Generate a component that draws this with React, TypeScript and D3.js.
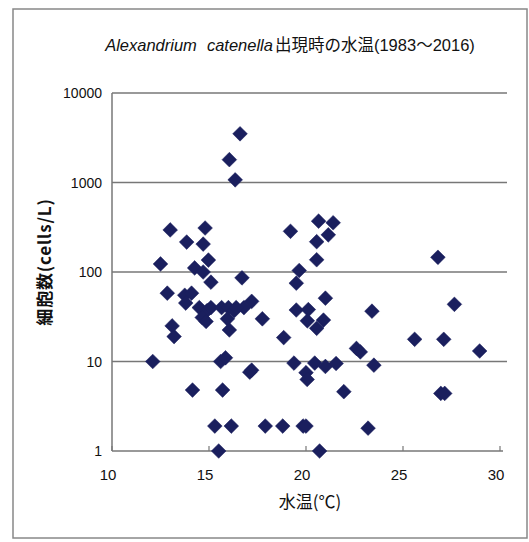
import React from "react";
import * as d3 from "d3";

const temps: number[] = [
  16.6, 16.05, 16.35, 13.0, 14.8, 13.85, 14.7, 14.97, 12.5, 14.26, 14.7, 15.1, 16.7,
  12.85, 13.75, 14.1, 13.8, 14.5, 14.9, 15.1, 14.65, 14.85, 15.65, 16.0, 16.3, 16.8,
  15.95, 16.05, 17.2, 13.1, 13.2, 12.1, 15.6, 15.85, 17.1, 17.2, 14.15, 15.7, 15.3,
  16.15, 15.5, 17.75, 18.85, 19.2, 20.65, 21.4, 21.15, 20.55, 20.55, 19.65, 19.5,
  21.0, 19.5, 20.12, 20.07, 20.9, 20.55, 23.4, 22.6, 22.8, 19.38, 20.45, 21.0, 21.55,
  23.5, 20.0, 20.06, 21.95, 17.9, 18.8, 19.85, 20.0, 23.2, 20.7, 26.8, 27.65, 25.6,
  27.1, 28.95, 26.95, 27.15, 16.4,
];
const cells: number[] = [
  3500, 1800, 1070, 295, 310, 216, 205, 136, 123, 111, 100, 77, 86,
  58, 55, 58, 45, 40, 37, 40, 31, 28, 40, 40, 37, 40,
  30, 22.5, 47, 25, 19, 10, 10, 11, 7.6, 8, 4.8, 4.8, 1.9,
  1.9, 1, 30, 18.5, 285, 370, 355, 260, 218, 137, 104, 75,
  51, 37.6, 38, 28.5, 29, 23.5, 36.5, 14, 12.8, 9.6, 9.6, 8.8, 9.5,
  9.1, 7.5, 6.3, 4.6, 1.9, 1.9, 1.9, 1.9, 1.8, 1, 146, 43.5, 17.7,
  17.7, 13.1, 4.4, 4.4, 40,
];
const xTicks: number[] = [10, 15, 20, 25, 30];
const yTicks: number[] = [1, 10, 100, 1000, 10000];

const W = 529;
const H = 542;
const FONT = "'Liberation Sans', Arial, 'Noto Sans CJK JP', sans-serif";
const JFONT = "'Noto Sans CJK JP', 'Liberation Sans', sans-serif";

export default function App() {
  const x = d3.scaleLinear().domain([10, 30]).range([112, 500]);
  const y = d3.scaleLog().domain([1, 10000]).range([451, 93]);
  const gridRight = 507;
  const diamond = d3.symbol().type(d3.symbolSquare).size(108)() as string;
  const points = temps.map((t, i) => ({ t, c: cells[i] }));

  return (
    <svg
      width={W}
      height={H}
      style={{ position: "absolute", left: 0, top: 0, background: "#fff" }}
    >
      <rect x={0} y={0} width={W} height={H} fill="#fff" />
      <rect x={13} y={9} width={514} height={529} fill="none" stroke="#888" strokeWidth={1.5} />

      <text x={290} y={51} textAnchor="middle" fontSize={16.5} fill="#111" fontFamily={FONT}>
        <tspan fontStyle="italic">Alexandrium</tspan>
        <tspan fontStyle="italic" dx={10}>catenella</tspan>
        <tspan fontFamily={JFONT} dx={2}>出現時の水温</tspan>
        <tspan>(1983</tspan>
        <tspan fontFamily={JFONT}>～</tspan>
        <tspan>2016)</tspan>
      </text>

      {yTicks.slice(1).map((v) => (
        <line key={"g" + v} x1={x(10)} x2={gridRight} y1={y(v)} y2={y(v)} stroke="#777" strokeWidth={1.5} />
      ))}
      <line x1={x(10)} x2={x(10)} y1={y(10000)} y2={y(1)} stroke="#777" strokeWidth={1.5} />
      <line x1={x(10)} x2={x(30) + 3} y1={y(1)} y2={y(1)} stroke="#777" strokeWidth={1.5} />
      {xTicks.map((v) => (
        <line key={"t" + v} x1={x(v)} x2={x(v)} y1={y(1)} y2={y(1) - 5} stroke="#777" strokeWidth={1.2} />
      ))}

      {yTicks.map((v) => (
        <text key={"yl" + v} x={102} y={y(v) + 5} textAnchor="end" fontSize={14} fill="#111" fontFamily={FONT}>
          {v}
        </text>
      ))}
      {xTicks.map((v) => (
        <text key={"xl" + v} x={x(v) - 4} y={480} textAnchor="middle" fontSize={15} fill="#111" fontFamily={FONT}>
          {v}
        </text>
      ))}

      <text x={310} y={508} textAnchor="middle" fontSize={17} fill="#111" fontFamily={JFONT}>
        水温(℃)
      </text>
      <text
        transform="translate(51,262) rotate(-90)"
        textAnchor="middle"
        fontSize={17}
        fontWeight="bold"
        letterSpacing={0.8}
        fill="#111"
        fontFamily={JFONT}
      >
        細胞数(cells/L)
      </text>

      {points.map((p, i) => (
        <path
          key={"p" + i}
          d={diamond}
          transform={`translate(${x(p.t)},${y(p.c)}) rotate(45)`}
          fill="#1a1f5e"
          stroke="#1a1f5e"
          strokeWidth={0.5}
        />
      ))}
    </svg>
  );
}
